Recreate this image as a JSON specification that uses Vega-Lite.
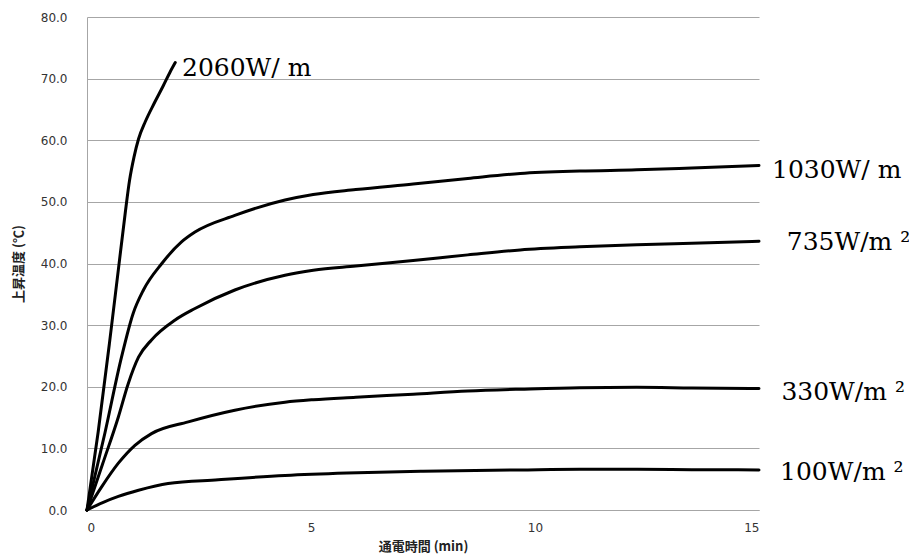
{
  "$schema": "https://vega.github.io/schema/vega-lite/v6.json",
  "autosize": "none",
  "width": 672,
  "height": 493,
  "padding": {"left": 87, "top": 17, "right": 150, "bottom": 47},
  "background": "white",
  "config": {"view": {"stroke": null}},
  "datasets": {
    "curves": [
      {"s": "2060", "t": 0, "v": 0}, {"s": "2060", "t": 0.25, "v": 12.7}, {"s": "2060", "t": 0.5, "v": 27}, {"s": "2060", "t": 0.7, "v": 39}, {"s": "2060", "t": 0.85, "v": 48}, {"s": "2060", "t": 0.95, "v": 53.5}, {"s": "2060", "t": 1.05, "v": 57.3}, {"s": "2060", "t": 1.15, "v": 60.2}, {"s": "2060", "t": 1.3, "v": 63}, {"s": "2060", "t": 1.5, "v": 66}, {"s": "2060", "t": 1.7, "v": 68.8}, {"s": "2060", "t": 1.85, "v": 71}, {"s": "2060", "t": 1.97, "v": 72.6},
      {"s": "1030", "t": 0, "v": 0}, {"s": "1030", "t": 0.4, "v": 12.5}, {"s": "1030", "t": 0.77, "v": 24.8}, {"s": "1030", "t": 1.03, "v": 31.9}, {"s": "1030", "t": 1.26, "v": 35.7}, {"s": "1030", "t": 1.67, "v": 40}, {"s": "1030", "t": 2.11, "v": 43.5}, {"s": "1030", "t": 2.41, "v": 45.1}, {"s": "1030", "t": 3.3, "v": 47.8}, {"s": "1030", "t": 4.42, "v": 50.3}, {"s": "1030", "t": 5.05, "v": 51.2}, {"s": "1030", "t": 6, "v": 52}, {"s": "1030", "t": 7.28, "v": 52.9}, {"s": "1030", "t": 8.5, "v": 53.8}, {"s": "1030", "t": 9.67, "v": 54.6}, {"s": "1030", "t": 11, "v": 55}, {"s": "1030", "t": 12.27, "v": 55.2}, {"s": "1030", "t": 13.5, "v": 55.5}, {"s": "1030", "t": 15, "v": 55.9},
      {"s": "735", "t": 0, "v": 0}, {"s": "735", "t": 0.35, "v": 7.5}, {"s": "735", "t": 0.7, "v": 15.1}, {"s": "735", "t": 0.92, "v": 20.5}, {"s": "735", "t": 1.15, "v": 24.8}, {"s": "735", "t": 1.44, "v": 27.6}, {"s": "735", "t": 1.96, "v": 30.8}, {"s": "735", "t": 2.41, "v": 32.7}, {"s": "735", "t": 3.3, "v": 35.7}, {"s": "735", "t": 4.42, "v": 38.1}, {"s": "735", "t": 5.05, "v": 38.9}, {"s": "735", "t": 6, "v": 39.6}, {"s": "735", "t": 7.28, "v": 40.5}, {"s": "735", "t": 8.5, "v": 41.4}, {"s": "735", "t": 9.67, "v": 42.2}, {"s": "735", "t": 11, "v": 42.7}, {"s": "735", "t": 12.27, "v": 43.05}, {"s": "735", "t": 13.5, "v": 43.3}, {"s": "735", "t": 15, "v": 43.6},
      {"s": "330", "t": 0, "v": 0}, {"s": "330", "t": 0.33, "v": 3.8}, {"s": "330", "t": 0.7, "v": 7.6}, {"s": "330", "t": 1.07, "v": 10.5}, {"s": "330", "t": 1.44, "v": 12.4}, {"s": "330", "t": 2.26, "v": 14.3}, {"s": "330", "t": 3.3, "v": 16.2}, {"s": "330", "t": 4.42, "v": 17.5}, {"s": "330", "t": 5.05, "v": 17.9}, {"s": "330", "t": 6, "v": 18.3}, {"s": "330", "t": 7.28, "v": 18.8}, {"s": "330", "t": 8.5, "v": 19.3}, {"s": "330", "t": 9.67, "v": 19.6}, {"s": "330", "t": 11, "v": 19.85}, {"s": "330", "t": 12.27, "v": 19.9}, {"s": "330", "t": 13.5, "v": 19.8}, {"s": "330", "t": 15, "v": 19.7},
      {"s": "100", "t": 0, "v": 0}, {"s": "100", "t": 0.35, "v": 1.2}, {"s": "100", "t": 0.7, "v": 2.2}, {"s": "100", "t": 1.15, "v": 3.2}, {"s": "100", "t": 1.81, "v": 4.3}, {"s": "100", "t": 2.93, "v": 4.9}, {"s": "100", "t": 4.42, "v": 5.6}, {"s": "100", "t": 5.8, "v": 6.0}, {"s": "100", "t": 7.5, "v": 6.3}, {"s": "100", "t": 9.67, "v": 6.5}, {"s": "100", "t": 11, "v": 6.6}, {"s": "100", "t": 12.27, "v": 6.6}, {"s": "100", "t": 13.5, "v": 6.55}, {"s": "100", "t": 15, "v": 6.5}
    ],
    "labels": [
      {"label": "2060W/ m", "t": 2.12, "v": 71.8},
      {"label": "1030W/ m", "t": 15.29, "v": 55.2},
      {"label": "735W/m ²", "t": 15.62, "v": 43.55},
      {"label": "330W/m ²", "t": 15.5, "v": 19.1},
      {"label": "100W/m ²", "t": 15.47, "v": 6.2}
    ]
  },
  "layer": [
    {
      "data": {"name": "curves"},
      "mark": {"type": "line", "interpolate": "monotone", "stroke": "black", "strokeWidth": 3, "strokeCap": "round"},
      "encoding": {
        "x": {
          "field": "t", "type": "quantitative",
          "scale": {"domain": [0, 15], "nice": false},
          "axis": {
            "values": [0, 5, 10, 15], "grid": false, "ticks": false, "domain": true, "domainColor": "#a6a6a6",
            "labelFont": "DejaVu Sans", "labelFontSize": 12, "labelColor": "#333333", "labelPadding": 12,
            "title": "通電時間 (min)", "titleFont": "Noto Sans CJK JP", "titleFontSize": 13, "titleFontWeight": "bold", "titleColor": "#222222", "titlePadding": 7
          }
        },
        "y": {
          "field": "v", "type": "quantitative",
          "scale": {"domain": [0, 80], "nice": false},
          "axis": {
            "values": [0, 10, 20, 30, 40, 50, 60, 70, 80], "format": ".1f", "grid": true, "gridColor": "#a6a6a6", "gridWidth": 1,
            "ticks": false, "domain": true, "domainColor": "#a6a6a6",
            "labelFont": "DejaVu Sans", "labelFontSize": 12, "labelColor": "#333333", "labelPadding": 20,
            "title": "上昇温度 (℃)", "titleFont": "Noto Sans CJK JP", "titleFontSize": 13, "titleFontWeight": "bold", "titleColor": "#222222", "titlePadding": 15
          }
        },
        "detail": {"field": "s", "type": "nominal"}
      }
    },
    {
      "data": {"name": "labels"},
      "mark": {"type": "text", "align": "left", "baseline": "middle", "font": "DejaVu Serif", "fontSize": 25, "color": "black"},
      "encoding": {
        "x": {"field": "t", "type": "quantitative"},
        "y": {"field": "v", "type": "quantitative"},
        "text": {"field": "label"}
      }
    }
  ]
}
